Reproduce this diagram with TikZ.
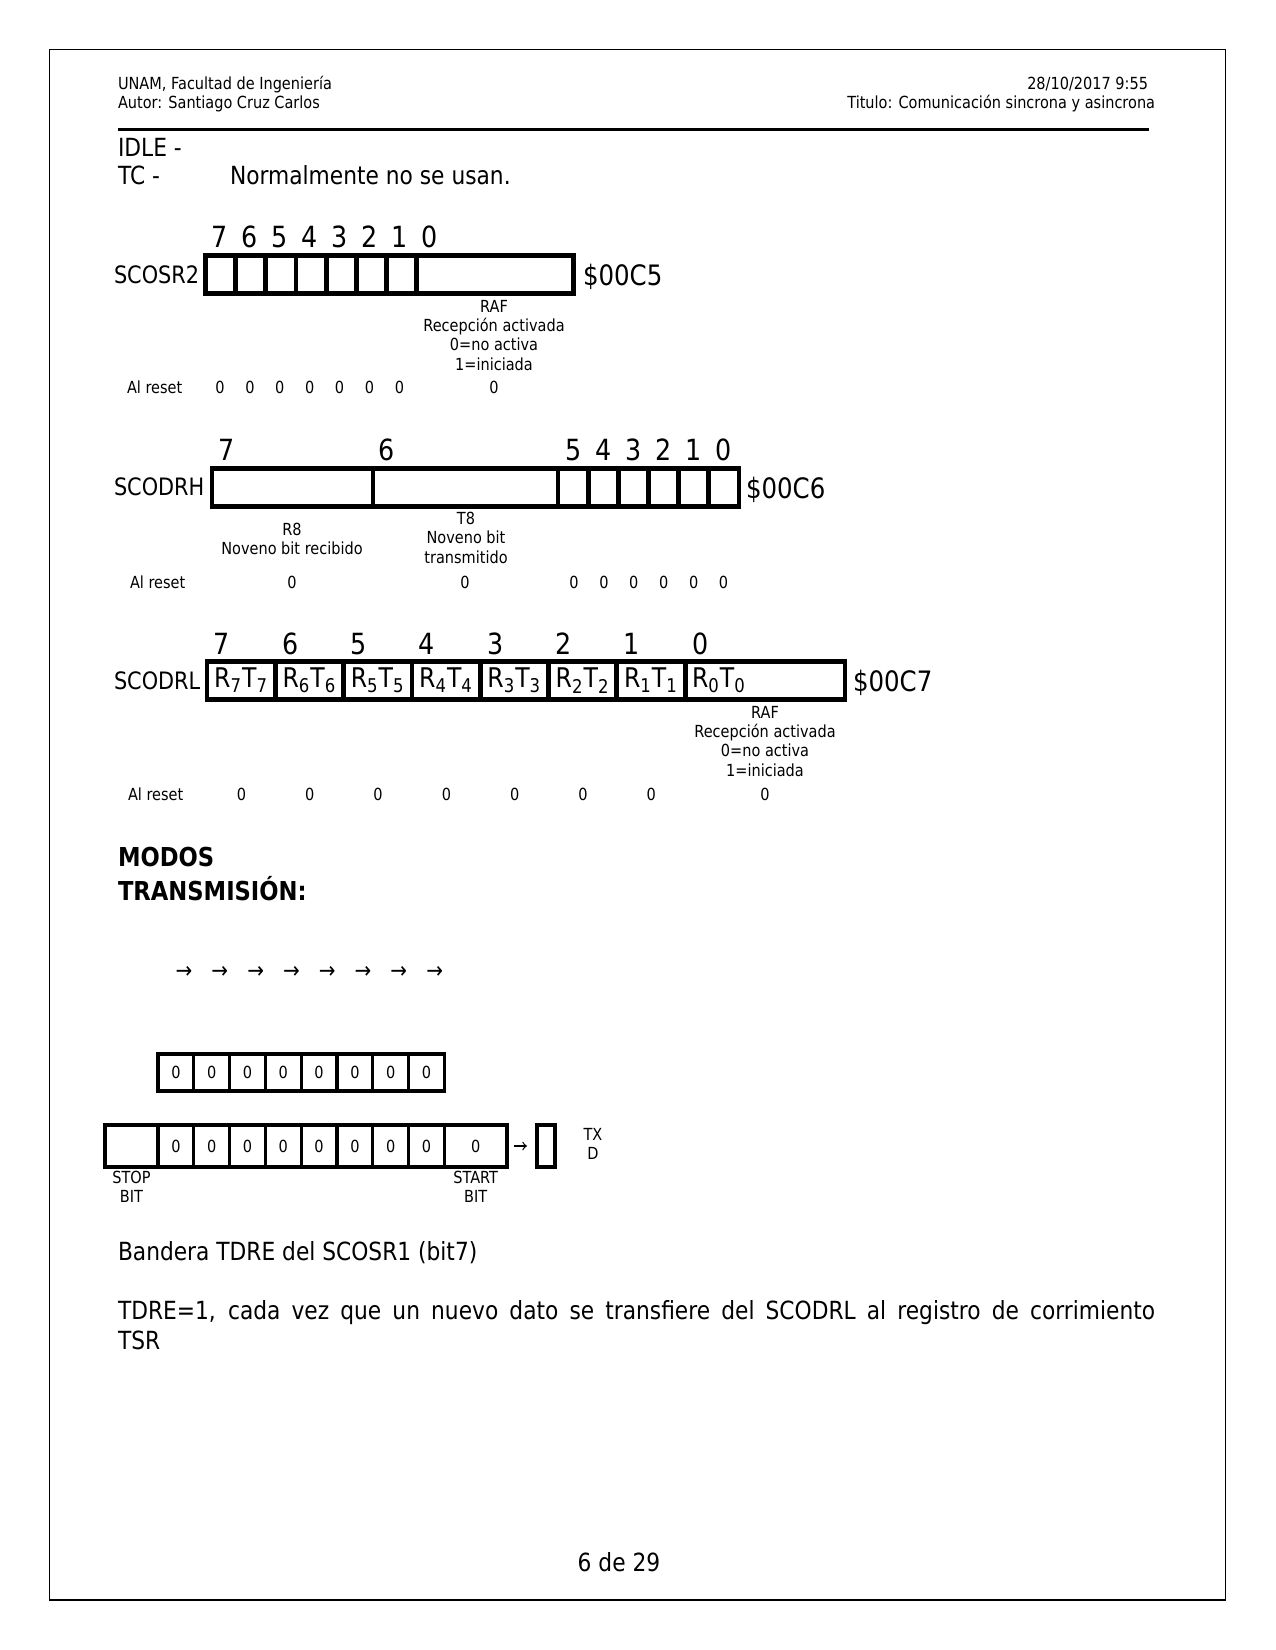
\documentclass[tikz,border=0pt]{standalone}
\usepackage{fontspec}
\setmainfont{DejaVu Sans}[FakeStretch=0.87]
\newcommand{\pxu}{0.48pt}
\tikzset{txt/.style={inner sep=0pt, outer sep=0pt},
 head/.style={txt, font=\fontsize{8}{9.6}\selectfont},
 body/.style={txt, font=\fontsize{12}{14.4}\selectfont},
 note/.style={txt, font=\fontsize{8}{9.3}\selectfont, align=center},
 bitnum/.style={txt, font=\fontsize{14}{16}\selectfont},
 regname/.style={txt, font=\fontsize{11.5}{14}\selectfont},
 addr/.style={txt, font=\fontsize{13.5}{15}\selectfont},
 cell/.style={draw, line width=2.3pt, inner sep=0pt, minimum height=38*\pxu,
  font=\fontsize{13}{15}\selectfont},
 txcell/.style={draw, line width=1.5pt, inner sep=0pt, minimum width=35.8*\pxu,
  font=\fontsize{8}{9}\selectfont},
 }

\begin{document}
\begin{tikzpicture}[x=0.48pt, y=-0.48pt]
        \useasboundingbox (0,0) rectangle (1275,1650);
        \draw[line width=0.8pt] (49.5,49.5) rectangle (1225.5,1600);
        \node[head, anchor=base west] (unam) at (118,90) {UNAM, Facultad de Ingeniería};
        \node[head, anchor=base west] (autor) at (118,109) {Autor: Santiago Cruz Carlos};
        \node[head, anchor=base east] (fecha) at (1148,90) {28/10/2017 9:55};
        \node[head, anchor=base east] (titulo) at (1155,109) {Titulo: Comunicación sincrona y asincrona};
        \draw[line width=1.5pt] (118,129.5) -- (1149,129.5);
        \node[body, anchor=base west] (idle) at (118,157) {IDLE -};
        \node[body, anchor=base west] (tc) at (118,185) {TC -};
        \node[body, anchor=base west] (tcnota) at (230,185) {Normalmente no se usan.};

        % SCOSR2
        \foreach \i in {0,...,6} {
            \pgfmathtruncatemacro{\b}{7-\i}
            \node[cell, minimum width=30.15*\pxu] (sr2c\b) at (220.6+30.15*\i,274.5) {};
            \node[bitnum, anchor=base] (sr2n\b) at (220+29.9*\i,248) {\b};
            \node[note, anchor=base] (sr2r\b) at (220+29.9*\i,394) {0};
        }
        \node[cell, minimum width=157*\pxu] (sr2c0) at (495,274.5) {};
        \node[bitnum, anchor=base] (sr2n0) at (430,248) {0};
        \node[regname, anchor=base west] (sr2nom) at (114,284) {SCOSR2};
        \node[addr, anchor=base west] (sr2dir) at (583,286) {\$00C5};
        \node[note, anchor=north] (sr2raf) at (494,300) {RAF\\Recepción activada\\0=no activa\\1=iniciada};
        \node[note, anchor=base west] (sr2reset) at (127,394) {Al reset};
        \node[note, anchor=base] (sr2r0) at (494,394) {0};

        % SCODRH
        \node[cell, minimum width=161*\pxu] (drhc7) at (292.5,487.5) {};
        \node[cell, minimum width=185*\pxu] (drhc6) at (465.5,487.5) {};
        \foreach \i in {0,...,5} {
            \pgfmathtruncatemacro{\b}{5-\i}
            \node[cell, minimum width=30.17*\pxu] (drhc\b) at (573.1+30.17*\i,487.5) {};
            \node[bitnum, anchor=base] (drhn\b) at (573.5+30.1*\i,461) {\b};
            \node[note, anchor=base] (drhr\b) at (574+29.9*\i,588) {0};
        }
        \node[bitnum, anchor=base] (drhn7) at (227,461) {7};
        \node[bitnum, anchor=base] (drhn6) at (387,461) {6};
        \node[regname, anchor=base west] (drhnom) at (114,496) {SCODRH};
        \node[addr, anchor=base west] (drhdir) at (746,498) {\$00C6};
        \node[note, anchor=north] (drhr8) at (292,523) {R8\\Noveno bit recibido};
        \node[note, anchor=north] (drht8) at (466,512) {T8\\Noveno bit\\transmitido};
        \node[note, anchor=base west] (drhreset) at (130,588) {Al reset};
        \node[note, anchor=base] (drhr7) at (292,588) {0};
        \node[note, anchor=base] (drhr6) at (465,588) {0};

        % SCODRL
        \foreach \i in {0,...,6} {
            \pgfmathtruncatemacro{\b}{7-\i}
            \node[cell, minimum width=68.3*\pxu] (drlc\b) at (241.15+68.3*\i,680.5) {R\textsubscript{\b}T\textsubscript{\b}};
            \node[bitnum, anchor=base] (drln\b) at (222+68.3*\i,654) {\b};
            \node[note, anchor=base] (drlr\b) at (241.5+68.3*\i,800) {0};
        }
        \node[cell, minimum width=160*\pxu] (drlc0) at (765,680.5) {};
        \node[txt, font=\fontsize{13}{15}\selectfont, anchor=west] (drlt0) at (692,680.5) {R\textsubscript{0}T\textsubscript{0}};
        \node[bitnum, anchor=base] (drln0) at (700.5,654) {0};
        \node[regname, anchor=base west] (drlnom) at (114,689) {SCODRL};
        \node[addr, anchor=base west] (drldir) at (853,691) {\$00C7};
        \node[note, anchor=north] (drlraf) at (765,706) {RAF\\Recepción activada\\0=no activa\\1=iniciada};
        \node[note, anchor=base west] (drlreset) at (128,800) {Al reset};
        \node[note, anchor=base] (drlr0) at (765,800) {0};

        % transmision
        \node[txt, font=\fontsize{12.5}{16.3}\selectfont\bfseries, align=left, anchor=north west] (modos) at (118,847) {MODOS\\TRANSMISIÓN:};
        \foreach \i in {0,...,7} {
            \node[txt, font=\fontsize{11}{12}\selectfont] (flecha\i) at (184+35.8*\i,972) {→};
            \node[txcell, minimum height=37*\pxu] (tdr\i) at (175.9+35.8*\i,1072.5) {0};
            \node[txcell, minimum height=42*\pxu] (tsr\i) at (175.9+35.8*\i,1146) {0};
        }
        \node[txcell, minimum height=42*\pxu, minimum width=53*\pxu] (stopbit) at (131.5,1146) {};
        \node[txcell, minimum height=42*\pxu, minimum width=62.6*\pxu] (startbit) at (475.7,1146) {0};
        \node[txcell, minimum height=42*\pxu, minimum width=18*\pxu] (txd) at (546,1146) {};
        \draw[->, line width=0.6pt, shorten <=2.7pt, shorten >=4.1pt] (startbit) -- (txd);
        \node[note, anchor=north] (txdnom) at (593,1128) {TX\\D};
        \node[note, anchor=north] (stopnom) at (131.5,1171) {STOP\\BIT};
        \node[note, anchor=north] (startnom) at (475.7,1171) {START\\BIT};

        \node[body, anchor=base west] (bandera) at (118,1260) {Bandera TDRE del SCOSR1 (bit7)};
        \node[body, text width=497.8pt, align=justify, anchor=north west] (tdre) at (118,1300)
            {TDRE=1, cada vez que un nuevo dato se transfiere del SCODRL al registro de corrimiento\linebreak TSR};
        \node[body, anchor=base] (pagina) at (619,1571) {6 de 29};
    \end{tikzpicture}
\end{document}
